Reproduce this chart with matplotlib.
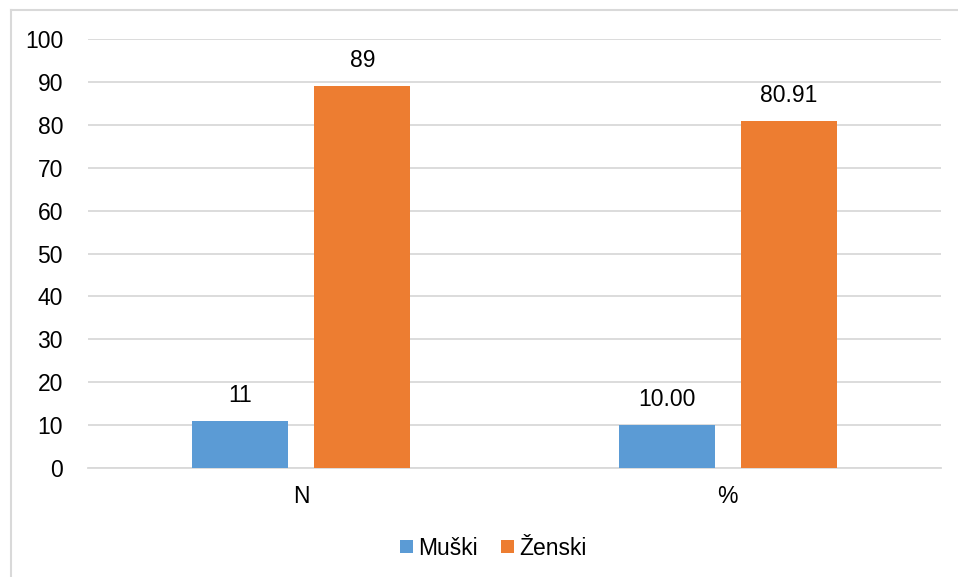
import numpy as np
import matplotlib.pyplot as plt
from matplotlib.lines import Line2D

# Data
categories = ["N", "%"]
muski = [11, 10.00]
zenski = [89, 80.91]
muski_labels = ["11", "10.00"]
zenski_labels = ["89", "80.91"]

plt.rcParams['font.family'] = ['Liberation Sans', 'DejaVu Sans']

fig = plt.figure(figsize=(9.58, 5.77), dpi=100)
ax = fig.add_axes([0.0919, 0.1889, 0.8904, 0.7435])

x = np.arange(len(categories))
w = 0.225
off = 0.143
b1 = ax.bar(x - off, muski, w, color="#5B9BD5", label="Muški", zorder=3)
b2 = ax.bar(x + off, zenski, w, color="#ED7D31", label="Ženski", zorder=3)

for bars, labs in ((b1, muski_labels), (b2, zenski_labels)):
    for bar, lab in zip(bars, labs):
        ax.annotate(lab, (bar.get_x() + bar.get_width() / 2, bar.get_height()),
                    xytext=(0, 10), textcoords="offset points",
                    ha="center", va="bottom", fontsize=16.5)

ax.set_xlim(-0.5, 1.5)
ax.set_ylim(0, 100)
ax.set_yticks(range(0, 101, 10))
ax.set_xticks(x)
ax.set_xticklabels(categories)
ax.tick_params(axis="both", length=0, labelsize=16.5)
ax.tick_params(axis="y", pad=18)
ax.tick_params(axis="x", pad=12)
ax.grid(axis="y", color="#D9D9D9", linewidth=1.3, zorder=0)
for s in ["top", "right", "left"]:
    ax.spines[s].set_visible(False)
ax.spines["bottom"].set_color("#D9D9D9")
ax.spines["bottom"].set_linewidth(1.3)

fig.legend(loc="center", bbox_to_anchor=(0.515, 0.05), ncol=2, frameon=False,
           fontsize=16.5, handlelength=0.55, handleheight=0.55,
           handletextpad=0.25, columnspacing=1.0)

# outer chart border (left and top edges visible)
fig.add_artist(Line2D([11/958, 11/958], [0, 1 - 10/577], color="#D9D9D9",
                      linewidth=1.5, transform=fig.transFigure))
fig.add_artist(Line2D([11/958, 1], [1 - 10/577, 1 - 10/577], color="#D9D9D9",
                      linewidth=1.5, transform=fig.transFigure))

plt.savefig("out.png", dpi=100)
